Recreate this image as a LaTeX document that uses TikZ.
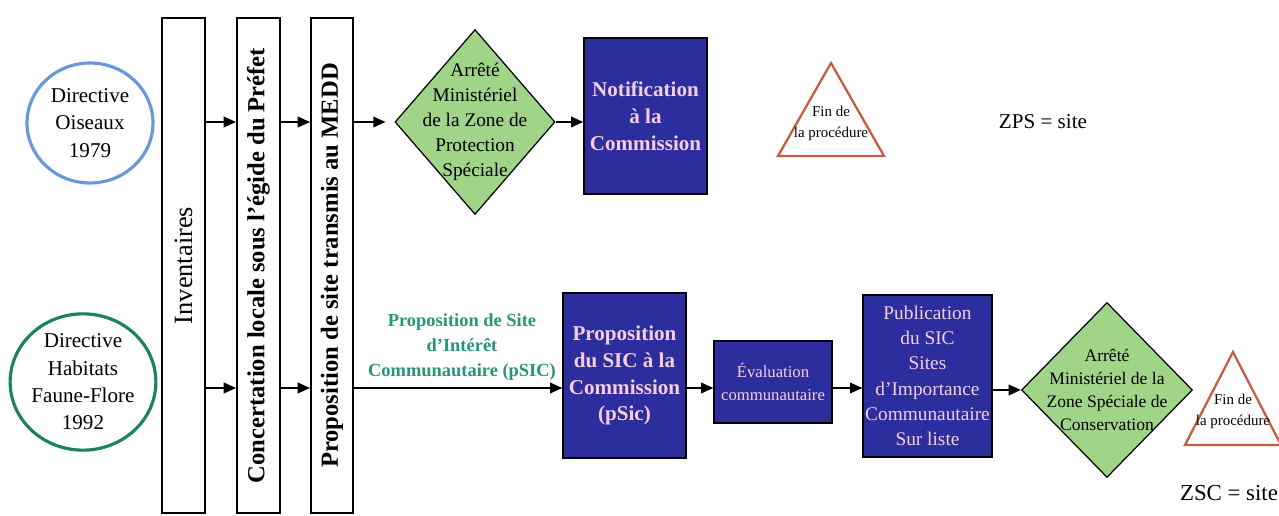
\documentclass[tikz,border=0pt]{standalone}
\usepackage{fontspec}
\setmainfont{Liberation Serif}
\usetikzlibrary{shapes.geometric,arrows.meta}

\definecolor{bleuBoite}{RGB}{44,46,158}
\definecolor{roseTexte}{RGB}{246,206,224}
\definecolor{vertLosange}{RGB}{160,212,136}
\definecolor{vertTexte}{RGB}{38,150,118}
\definecolor{bleuOis}{RGB}{104,152,218}
\definecolor{vertHab}{RGB}{28,128,98}
\definecolor{rougeTri}{RGB}{200,90,70}

\begin{document}
\begin{tikzpicture}[x=0.02cm,y=-0.02cm,
    fleche/.style={line width=1.1pt,-{Triangle[length=7pt,width=6pt]}},
    directive/.style={ellipse,line width=1.8pt,align=center,inner sep=0pt,font=\fontsize{12}{15.6}\selectfont},
    colonne/.style={draw,line width=1.1pt,minimum width=0.86cm,minimum height=9.9cm,inner sep=0pt},
    boite/.style={draw=black,fill=bleuBoite,line width=0.8pt,text=roseTexte,align=center,inner sep=0pt},
    losange/.style={diamond,draw,fill=vertLosange,line width=0.7pt,inner sep=0pt},
    fin/.style={draw=rougeTri,line width=1.3pt,line join=miter},
    petit/.style={align=center,inner sep=0pt,font=\fontsize{8.5}{12}\selectfont}]

\useasboundingbox (0,0) rectangle (1279,516);

% lignes des fleches
\coordinate (rowA) at (0,122);
\coordinate (rowB) at (0,388);

% directives
\node[directive,draw=bleuOis,minimum width=2.52cm,minimum height=2.4cm] (dirOis) at (90,123) {Directive\\Oiseaux\\1979};
\node[directive,draw=vertHab,minimum width=2.8cm,minimum height=2.6cm] (dirHab) at (83,382) {Directive\\Habitats\\Faune-Flore\\1992};

% colonnes
\node[colonne] (inv) at (183.5,265.5) {\rotatebox{90}{\fontsize{15}{18}\selectfont Inventaires}};
\node[colonne] (conc) at (258.5,265.5) {\rotatebox{90}{\fontsize{14}{17}\selectfont\bfseries Concertation locale sous l'égide du Préfet}};
\node[colonne,minimum width=0.84cm] (prop) at (332,265.5) {\rotatebox{90}{\fontsize{14}{17}\selectfont\bfseries Proposition de site transmis au MEDD}};

% ZPS
\node[losange,minimum width=3.2cm,minimum height=3.7cm,
  label={[align=center,font=\fontsize{11}{14.2}\selectfont]center:Arrêté\\Ministériel\\de la Zone de\\Protection\\Spéciale}] (zps) at (475,122) {};
\node[boite,minimum width=2.46cm,minimum height=3.12cm,font=\fontsize{12}{15.5}\selectfont\bfseries] (notif) at (645.5,116) {Notification\\à la\\Commission};
\draw[fin] (831,63) -- (884,156) -- (778,156) -- cycle;
\node[petit] (finZps) at (831,123) {Fin de\\la procédure};
\node[font=\fontsize{12}{14}\selectfont] (zpsSite) at (1043,122) {ZPS = site};

% ZSC
\node[align=center,text=vertTexte,font=\fontsize{10.5}{14.2}\selectfont\bfseries] (lblPsic) at (462,347) {Proposition de Site\\d'Intérêt\\Communautaire (pSIC)};
\node[boite,minimum width=2.46cm,minimum height=3.3cm,font=\fontsize{12}{15.3}\selectfont\bfseries] (psic) at (624.5,375.5) {Proposition\\du SIC à la\\Commission\\(pSic)};
\node[boite,minimum width=2.36cm,minimum height=1.64cm,font=\fontsize{9.5}{13}\selectfont] (eval) at (773,382) {Évaluation\\communautaire};
\node[boite,minimum width=2.58cm,minimum height=3.24cm,font=\fontsize{11}{14.4}\selectfont] (pub) at (927.5,376) {Publication\\du SIC\\Sites\\d'Importance\\Communautaire\\Sur liste};
\node[losange,minimum width=3.42cm,minimum height=3.5cm,
  label={[align=center,font=\fontsize{10}{13}\selectfont]center:Arrêté\\Ministériel de la\\Zone Spéciale de\\Conservation}] (zsc) at (1107,390) {};
\draw[fin] (1233,352) -- (1281,445) -- (1185,445) -- cycle;
\node[petit] (finZsc) at (1233,411) {Fin de\\la procédure};
\node[font=\fontsize{13}{15}\selectfont] (zscSite) at (1229,493) {ZSC = site};

% fleches du haut
\draw[fleche] (inv.east |- rowA) -- (conc.west |- rowA);
\draw[fleche] (conc.east |- rowA) -- (prop.west |- rowA);
\draw[fleche,shorten >=5pt] (prop.east |- rowA) -- (zps.west);
\draw[fleche] (zps.east) -- (notif.west |- zps.east);

% fleches du bas
\draw[fleche] (inv.east |- rowB) -- (conc.west |- rowB);
\draw[fleche] (conc.east |- rowB) -- (prop.west |- rowB);
\draw[fleche] (prop.east |- rowB) -- (psic.west |- rowB);
\draw[fleche] (psic.east |- rowB) -- (eval.west |- rowB);
\draw[fleche] (eval.east |- rowB) -- (pub.west |- rowB);
\draw[fleche] (pub.east |- zsc.west) -- (zsc.west);

\end{tikzpicture}
\end{document}
